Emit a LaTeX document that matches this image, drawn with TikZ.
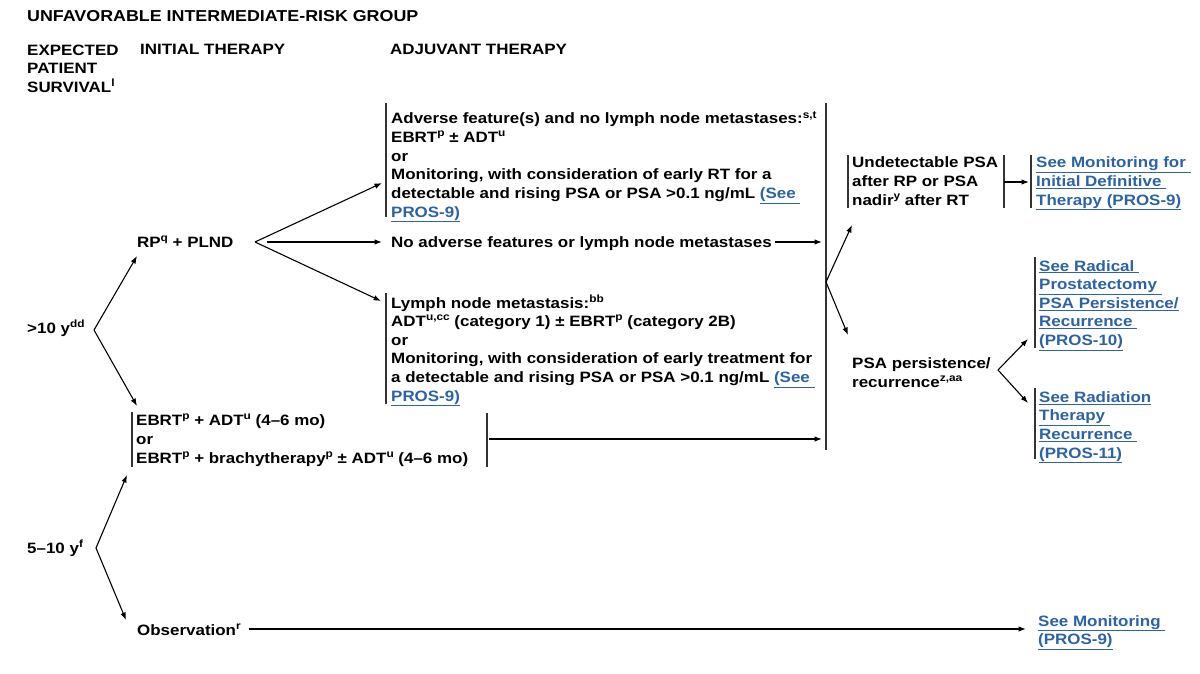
\documentclass[tikz,border=0pt]{standalone}
\usepackage{fontspec}
\setmainfont{Liberation Sans}[FakeStretch=1.13]
\usetikzlibrary{arrows.meta}
\definecolor{linkblue}{RGB}{46,98,160}
\newcommand{\lnk}[1]{\textcolor{linkblue}{\underline{#1}}}
\newcommand{\sps}[1]{\raisebox{0.4em}{\fontsize{10.5}{10}\selectfont\bfseries #1}}
\begin{document}
\begin{tikzpicture}[x=1pt,y=-1pt,
  every node/.style={font=\fontsize{15}{18.6}\selectfont\bfseries, inner sep=0pt, anchor=base west, align=left},
  arr/.style={-{Latex[length=7.5pt,width=5.5pt]}, line width=1.1pt},
  bar/.style={line width=1.2pt, draw=black!80}]
\useasboundingbox (0,0) rectangle (1200,674);
% headers (anchor = baseline of last line)
\node[font=\fontsize{15.8}{18.6}\selectfont\bfseries] (title) at (27,22) {UNFAVORABLE INTERMEDIATE-RISK GROUP};
\node (h1) at (27,92.5) {EXPECTED\\PATIENT\\SURVIVAL\sps{l}};
\node (h2) at (140,55) {INITIAL THERAPY};
\node (h3) at (390,55) {ADJUVANT THERAPY};
% nodes
\node (n10) at (27,333) {>10 y\sps{dd}};
\node (rp) at (137,247) {RP\sps{q} + PLND};
\node (adv) at (391,217) {Adverse feature(s) and no lymph node metastases:\sps{s,t}\\
EBRT\sps{p} ± ADT\sps{u}\\
or\\
Monitoring, with consideration of early RT for a\\
detectable and rising PSA or PSA >0.1 ng/mL \lnk{(See\ }\\
\lnk{PROS-9)}};
\node (noadv) at (391,247) {No adverse features or lymph node metastases};
\node (lymph) at (391,401) {Lymph node metastasis:\sps{bb}\\
ADT\sps{u,cc} (category 1) ± EBRT\sps{p} (category 2B)\\
or\\
Monitoring, with consideration of early treatment for\\
a detectable and rising PSA or PSA >0.1 ng/mL \lnk{(See\ }\\
\lnk{PROS-9)}};
\node (ebrt) at (136,463) {EBRT\sps{p} + ADT\sps{u} (4–6 mo)\\
or\\
EBRT\sps{p} + brachytherapy\sps{p} ± ADT\sps{u} (4–6 mo)};
\node (undet) at (852,205) {Undetectable PSA\\after RP or PSA\\nadir\sps{y} after RT};
\node (mon1) at (1036,205) {\lnk{See Monitoring for\ }\\\lnk{Initial Definitive\ }\\\lnk{Therapy (PROS-9)}};
\node (psa) at (852,387.5) {PSA persistence/\\recurrence\sps{z,aa}};
\node (rad) at (1039,345.5) {\lnk{See Radical\ }\\\lnk{Prostatectomy\ }\\\lnk{PSA Persistence/}\\\lnk{Recurrence\ }\\\lnk{(PROS-10)}};
\node (radt) at (1039,458) {\lnk{See Radiation}\\\lnk{Therapy\ }\\\lnk{Recurrence\ }\\\lnk{(PROS-11)}};
\node (n510) at (27,553) {5–10 y\sps{f}};
\node (obs) at (137,635) {Observation\sps{r}};
\node (mon2) at (1038,644.6) {\lnk{See Monitoring\ }\\\lnk{(PROS-9)}};
% coordinates
\coordinate (s1) at (94,330);
\coordinate (s2) at (255,242);
\coordinate (bartop) at (826,103);
\coordinate (barbot) at (826,450);
\coordinate (s3) at (826,282);
\coordinate (s4) at (998,370);
\coordinate (s5) at (96,548);
% bars
\draw[bar] (bartop) -- (barbot);
\draw[bar] (386,103) -- (386,217);
\draw[bar] (386,293) -- (386,404);
\draw[bar] (132,412) -- (132,467);
\draw[bar] (487,413) -- (487,467);
\draw[bar] (848,155) -- (848,208);
\draw[bar] (1004,155) -- (1004,208);
\draw[bar] (1031,155) -- (1031,208);
\draw[bar] (1035,257) -- (1035,348);
\draw[bar] (1035,388) -- (1035,459);
% arrows
\draw[arr] (s1) -- (137,256);
\draw[arr] (s1) -- (137,406);
\draw[arr] (s2) -- (382,183);
\draw[arr] (267,242) -- (382,242);
\draw[arr] (s2) -- (381,301);
\draw[arr] (noadv.east |- 0,242) ++(3,0) -- (822,242);
\draw[arr] (489,439) -- (822,439);
\draw[arr] (s3) -- (852,225);
\draw[arr] (s3) -- (848,335);
\draw[arr] (1004,182) -- (1029,182);
\draw[arr] (s4) -- (1028,339);
\draw[arr] (s4) -- (1028,403);
\draw[arr] (s5) -- (127,475);
\draw[arr] (s5) -- (126,620);
\draw[arr] (obs.east |- 0,629) ++(8,0) -- (1026,629);
\end{tikzpicture}
\end{document}
